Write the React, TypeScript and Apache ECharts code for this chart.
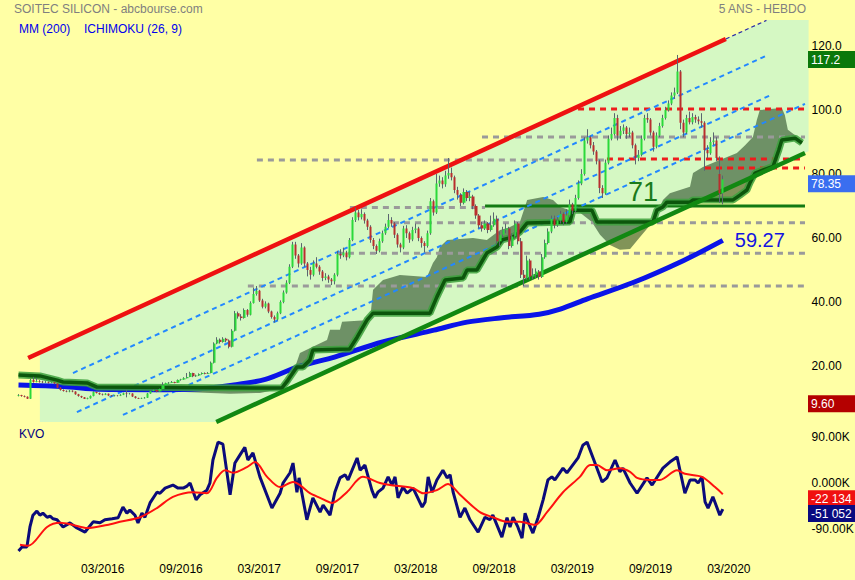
import React, { useEffect, useRef } from 'react';
import * as echarts from 'echarts';

// ---------- axis scaffolding ----------
const axisWeeks = 263; // weekly slots: 235 candles + 28 slots for the forward-shifted cloud
const tickLabels = ['03/2016', '09/2016', '03/2017', '09/2017', '03/2018', '09/2018', '03/2019', '09/2019', '03/2020'];
const firstTickWeek = 28;
const tickStep = 26;
const priceTicks = [20, 40, 60, 80, 100, 120];
const kvoTicks = [-90, 0, 90];

// ---------- weekly candles ----------
const opens = [
  10.7, 10.9, 10.6, 10.4, 9.8, 15.6, 15.0, 15.3, 15.1, 14.9,
  15.0, 14.8, 14.9, 14.5, 13.2, 12.5, 12.2, 12.0, 12.3, 12.0,
  11.2, 10.6, 10.2, 9.7, 9.9, 10.6, 11.9, 11.6, 11.2, 11.0,
  11.3, 10.8, 10.6, 10.8, 10.7, 11.0, 11.5, 11.3, 11.4, 10.5,
  10.0, 9.8, 9.9, 10.1, 11.4, 12.2, 12.5, 12.0, 12.8, 14.0,
  14.6, 14.8, 15.0, 14.8, 15.6, 15.8, 16.2, 16.6, 17.8, 16.8,
  17.0, 17.5, 17.8, 17.6, 17.8, 21.0, 27.0, 28.2, 27.5, 28.5,
  28.0, 26.0, 31.0, 36.5, 35.5, 35.0, 37.5, 36.0, 39.7, 42.5,
  43.5, 40.5, 38.5, 39.5, 37.0, 35.3, 34.5, 36.5, 40.0, 43.0,
  46.0, 51.0, 58.0, 54.5, 52.0, 57.0, 52.0, 50.0, 48.5, 52.0,
  51.0, 49.5, 47.5, 48.0, 47.0, 46.5, 48.5, 55.0, 54.5, 55.5,
  54.0, 59.4, 65.6, 68.0, 66.5, 67.5, 65.5, 63.5, 59.4, 57.5,
  56.0, 59.0, 61.5, 63.5, 65.6, 64.5, 61.0, 58.0, 57.0, 63.0,
  61.5, 59.5, 62.5, 63.0, 60.0, 58.4, 57.5, 61.5, 71.5, 68.0,
  77.0, 78.0, 76.8, 79.5, 80.3, 79.0, 75.0, 73.5, 71.0, 74.4,
  72.5, 73.0, 70.0, 67.0, 64.0, 63.0, 64.5, 62.5, 64.0, 66.0,
  59.0, 61.0, 62.5, 63.0, 57.5, 60.5, 64.5, 59.0, 48.5, 47.5,
  53.0, 48.0, 48.5, 49.5, 47.8, 54.0, 58.4, 62.0, 66.0, 64.0,
  65.5, 67.5, 65.0, 67.0, 70.5, 68.5, 72.5, 77.0, 80.0, 90.5,
  91.5, 89.0, 87.0, 84.0, 75.6, 74.0, 83.5, 91.0, 92.5, 97.5,
  92.0, 93.5, 94.5, 92.5, 93.0, 89.0, 85.0, 86.0, 91.0, 97.5,
  97.0, 93.0, 88.5, 92.0, 95.0, 97.5, 100.0, 102.0, 104.5, 105.5,
  112.0, 96.0, 93.0, 97.5, 96.2, 97.8, 97.0, 96.5, 96.0, 87.5,
  86.5, 90.0, 90.5, 80.0, 74.0,
];
const closes = [
  10.9, 10.6, 10.4, 9.8, 15.6, 15.0, 15.3, 15.1, 14.9, 15.0,
  14.8, 14.9, 14.5, 13.2, 12.5, 12.2, 12.0, 12.3, 12.0, 11.2,
  10.6, 10.2, 9.7, 9.9, 10.6, 11.9, 11.6, 11.2, 11.0, 11.3,
  10.8, 10.6, 10.8, 10.7, 11.0, 11.5, 11.3, 11.4, 10.5, 10.0,
  9.8, 9.9, 10.1, 11.4, 12.2, 12.5, 12.0, 12.8, 14.0, 14.6,
  14.8, 15.0, 14.8, 15.6, 15.8, 16.2, 16.6, 17.8, 16.8, 17.0,
  17.5, 17.8, 17.6, 17.8, 21.0, 27.0, 28.2, 27.5, 28.5, 28.0,
  26.0, 31.0, 36.5, 35.5, 35.0, 37.5, 36.0, 39.7, 42.5, 43.5,
  40.5, 38.5, 39.5, 37.0, 35.3, 34.5, 36.5, 40.0, 43.0, 46.0,
  51.0, 58.0, 54.5, 52.0, 57.0, 52.0, 50.0, 48.5, 52.0, 51.0,
  49.5, 47.5, 48.0, 47.0, 46.5, 48.5, 55.0, 54.5, 55.5, 54.0,
  59.4, 65.6, 68.0, 66.5, 67.5, 65.5, 63.5, 59.4, 57.5, 56.0,
  59.0, 61.5, 63.5, 65.6, 64.5, 61.0, 58.0, 57.0, 63.0, 61.5,
  59.5, 62.5, 63.0, 60.0, 58.4, 57.5, 61.5, 71.5, 68.0, 77.0,
  78.0, 76.8, 79.5, 80.3, 79.0, 75.0, 73.5, 71.0, 74.4, 72.5,
  73.0, 70.0, 67.0, 64.0, 63.0, 64.5, 62.5, 64.0, 66.0, 59.0,
  61.0, 62.5, 63.0, 57.5, 60.5, 64.5, 59.0, 48.5, 47.5, 53.0,
  48.0, 48.5, 49.5, 47.8, 54.0, 58.4, 62.0, 66.0, 64.0, 65.5,
  67.5, 65.0, 67.0, 70.5, 68.5, 72.5, 77.0, 80.0, 90.5, 91.5,
  89.0, 87.0, 84.0, 75.6, 74.0, 83.5, 91.0, 92.5, 97.5, 92.0,
  93.5, 94.5, 92.5, 93.0, 89.0, 85.0, 86.0, 91.0, 97.5, 97.0,
  93.0, 88.5, 92.0, 95.0, 97.5, 100.0, 102.0, 104.5, 105.5, 112.0,
  96.0, 93.0, 97.5, 96.2, 97.8, 97.0, 96.5, 96.0, 87.5, 86.5,
  90.0, 90.5, 85.0, 74.0, 78.35,
];
const highs = [
  11.2, 11.0, 10.8, 10.5, 16.0, 16.6, 16.2, 15.6, 15.4, 15.3,
  15.2, 15.1, 15.0, 14.6, 13.4, 12.7, 12.4, 12.5, 12.4, 12.1,
  11.3, 10.7, 10.3, 10.1, 10.8, 12.1, 12.0, 11.7, 11.4, 11.5,
  11.4, 10.9, 11.0, 10.9, 11.2, 11.7, 12.6, 11.6, 11.5, 10.6,
  10.1, 10.1, 10.3, 11.6, 12.4, 12.8, 12.6, 13.0, 14.9, 14.8,
  15.0, 15.3, 15.1, 15.8, 16.0, 16.5, 17.8, 18.2, 17.9, 17.3,
  17.7, 18.0, 18.0, 18.1, 21.4, 27.4, 29.0, 28.6, 29.0, 28.8,
  28.3, 31.5, 37.2, 37.0, 36.2, 38.0, 37.8, 40.2, 44.5, 45.0,
  43.8, 41.0, 40.2, 39.8, 37.3, 35.8, 37.0, 40.5, 43.6, 46.8,
  51.8, 58.8, 58.8, 55.0, 58.4, 57.4, 52.5, 51.0, 53.0, 54.0,
  51.5, 50.0, 49.0, 48.5, 47.5, 49.0, 56.0, 56.5, 57.0, 56.0,
  60.0, 66.5, 69.5, 68.8, 69.0, 68.0, 66.0, 64.0, 60.0, 58.0,
  59.8, 62.3, 64.5, 67.5, 66.5, 65.0, 61.5, 58.5, 63.8, 64.0,
  62.0, 63.5, 64.5, 63.5, 60.5, 59.0, 62.3, 72.5, 72.0, 80.0,
  79.5, 79.0, 81.0, 85.0, 82.0, 79.5, 76.0, 74.0, 75.5, 75.0,
  74.5, 73.5, 70.5, 67.5, 65.0, 65.5, 65.0, 67.0, 68.0, 67.0,
  62.0, 63.5, 64.5, 63.5, 61.5, 65.5, 65.0, 60.0, 50.0, 54.5,
  53.5, 50.5, 50.5, 50.0, 55.0, 59.5, 63.0, 67.0, 67.0, 66.5,
  68.5, 68.0, 69.0, 72.0, 71.0, 73.5, 78.0, 81.5, 91.5, 94.0,
  92.0, 90.0, 87.5, 84.5, 76.5, 84.5, 92.0, 94.5, 99.0, 98.5,
  95.0, 95.5, 95.0, 94.5, 93.5, 89.5, 87.5, 92.0, 98.5, 99.0,
  97.5, 93.5, 93.0, 96.0, 98.5, 101.0, 103.0, 105.5, 107.0, 117.2,
  112.5, 97.0, 98.5, 99.5, 99.0, 98.5, 98.0, 99.0, 96.5, 89.0,
  91.5, 93.0, 91.5, 85.5, 79.5,
];
const lows = [
  10.5, 10.4, 10.2, 9.7, 9.7, 14.8, 14.9, 14.8, 14.6, 14.7,
  14.5, 14.6, 14.3, 13.0, 12.3, 12.0, 11.8, 11.8, 11.8, 11.0,
  10.4, 10.0, 9.7, 9.6, 9.8, 10.5, 11.4, 11.0, 10.8, 10.9,
  10.6, 10.4, 10.5, 10.5, 10.6, 10.9, 10.2, 11.1, 10.3, 9.8,
  9.7, 9.7, 9.8, 10.0, 11.3, 12.0, 11.8, 11.9, 12.7, 13.9,
  14.4, 14.7, 14.6, 14.7, 15.4, 15.7, 16.1, 16.5, 16.5, 16.6,
  16.9, 17.3, 17.4, 17.5, 17.7, 20.8, 26.8, 27.0, 27.3, 27.4,
  25.5, 25.8, 30.8, 34.8, 34.2, 34.8, 35.4, 35.8, 39.5, 42.0,
  40.0, 38.0, 38.0, 36.5, 34.8, 33.6, 34.2, 36.2, 39.6, 42.6,
  45.6, 50.6, 53.5, 50.8, 51.6, 51.0, 48.0, 47.0, 48.0, 50.5,
  48.5, 46.5, 46.8, 46.0, 45.3, 45.5, 48.0, 53.5, 54.0, 53.0,
  53.6, 59.0, 65.0, 65.5, 65.8, 64.5, 62.5, 58.5, 56.5, 55.0,
  55.5, 58.5, 61.0, 63.0, 63.5, 60.0, 57.0, 55.5, 56.5, 60.0,
  58.5, 59.0, 61.5, 59.0, 57.0, 55.5, 57.0, 61.0, 67.0, 67.5,
  76.0, 75.5, 76.0, 78.5, 78.0, 74.0, 72.0, 70.0, 70.5, 71.5,
  71.5, 69.0, 66.0, 63.0, 62.0, 62.5, 61.5, 62.0, 63.5, 58.0,
  57.5, 60.0, 61.5, 56.5, 57.0, 60.0, 58.0, 47.5, 45.0, 47.0,
  47.0, 47.0, 47.5, 47.0, 47.5, 53.5, 58.0, 61.5, 63.0, 63.5,
  64.5, 64.0, 64.5, 66.5, 67.5, 68.0, 72.0, 76.5, 79.5, 89.5,
  88.0, 86.0, 83.0, 74.0, 72.5, 73.5, 83.0, 90.5, 92.0, 90.5,
  91.0, 92.5, 91.0, 91.5, 88.0, 83.0, 84.0, 85.5, 90.5, 96.0,
  92.0, 87.0, 88.0, 91.5, 94.5, 97.0, 99.5, 101.5, 103.5, 105.0,
  94.0, 91.5, 92.5, 95.5, 95.5, 96.0, 95.5, 94.5, 81.0, 85.0,
  86.0, 89.0, 84.0, 71.0, 70.5,
];

// ---------- moving average 200 ----------
const maWeeks = [0, 15, 27, 45, 60, 71, 82, 93, 105, 121, 138, 149, 160, 173, 180, 189, 204, 221, 234];
const maValues = [14.1, 13.6, 12.7, 12.6, 12.9, 14.0, 15.8, 19.8, 22.8, 27.5, 31.2, 33.7, 35.0, 36.2, 37.8, 41.0, 46.0, 53.0, 59.27];

// ---------- Ichimoku cloud edges (shifted 26 weeks forward) ----------
const spanAWeeks = [0, 13.8, 27.1, 50.3, 55.3, 70.3, 80.2, 85.2, 88, 90.2, 93.5, 97.8, 102.5, 103.5, 106.8, 107.5, 116.8, 117.8, 121.1, 126.7, 135.7, 137.7, 139, 140, 142.4, 151, 155.6, 160, 163.3, 166.6, 169, 174.3, 177.6, 180, 183.2, 186.5, 190.5, 193.2, 196.5, 199.8, 203.2, 206.5, 209.8, 212.1, 214.1, 216.4, 223.1, 224.1, 227.4, 233, 238.7, 241.4, 244, 245.3, 246.3, 253.6, 254.6, 255.6, 257.9, 260.3];
const spanAValues = [16.9, 14.7, 13.1, 12.8, 11.9, 11.3, 11.6, 12.5, 13.5, 15.0, 24.1, 26.0, 28.1, 31.3, 31.3, 33.8, 34.4, 43.8, 46.9, 48.4, 47.8, 52.2, 54.0, 57.2, 59.4, 60.0, 59.4, 62.5, 63.4, 65.0, 71.9, 72.8, 71.9, 69.7, 68.7, 68.0, 65.0, 61.0, 57.8, 56.3, 56.6, 60.3, 64.0, 67.2, 71.9, 74.0, 76.0, 80.3, 82.2, 84.4, 86.6, 89.0, 91.6, 96.9, 100.0, 100.6, 98.4, 93.8, 92.2, 89.9];
const spanBWeeks = [0, 7.1, 12.8, 14.8, 22.8, 26.1, 87.5, 89.5, 92.5, 94.5, 96.8, 97.8, 110, 112.5, 115.8, 117.8, 136.7, 139, 141.7, 147.7, 149, 152.3, 155.6, 159, 160.6, 164.3, 166.6, 169, 183.2, 184.2, 190.5, 192.2, 210.8, 212.1, 214.1, 215.4, 223.1, 224.1, 237.4, 239.7, 242, 243, 244.7, 250.7, 252.6, 253.6, 258, 260.3];
const spanBValues = [17.2, 16.9, 15.6, 15.0, 14.7, 13.4, 13.1, 15.6, 19.7, 19.7, 21.9, 25.0, 25.3, 29.0, 34.4, 36.5, 36.5, 41.6, 46.9, 47.5, 50.0, 50.0, 55.3, 57.2, 59.4, 60.3, 61.9, 64.7, 65.0, 68.7, 68.7, 65.0, 65.0, 68.7, 69.7, 71.2, 71.2, 71.9, 71.9, 73.4, 75.0, 77.2, 80.3, 82.4, 87.5, 90.6, 91.2, 89.7];

// ---------- KVO oscillator (thousands) ----------
const kvoWeeks = [0, 1.2, 2.8, 3.8, 4.8, 6.1, 7.1, 8.1, 9.5, 10.5, 11.5, 12.8, 14.8, 17.1, 19.4, 22.1, 24.8, 27.1, 28.7, 31.1, 33.1, 34.7, 36, 37, 38.7, 39.7, 41, 42, 43.7, 46, 47, 48.7, 51.3, 53, 54.7, 56, 57, 59, 60.3, 62.6, 63.6, 64.6, 66.3, 67.9, 70.3, 71.9, 73.6, 75.2, 76.2, 77.9, 80.2, 84.2, 86.9, 87.9, 90.2, 91.2, 92.5, 93.2, 95.8, 97.8, 100.2, 101.2, 103.5, 105.1, 106.8, 108.5, 109.5, 112.5, 113.5, 115.1, 117.4, 118.4, 119.4, 121.1, 122.8, 124.1, 125.1, 126.1, 127.7, 129.1, 131.1, 134.1, 135.1, 136.1, 137.4, 139, 141, 142.4, 143.4, 144.4, 146.7, 148.3, 150, 152.7, 155, 156.6, 157.6, 160.6, 162.3, 163.3, 164.3, 165.9, 167.3, 168.3, 169.3, 170.9, 172.6, 174.3, 175.9, 177.2, 178.2, 180.9, 182.2, 185.9, 187.5, 188.9, 190.9, 193.9, 195.5, 198.2, 199.8, 200.8, 203.2, 205.5, 208.8, 210.5, 214.1, 216.4, 218.8, 221.4, 223.1, 224.8, 225.8, 227.1, 228.1, 229.1, 230.7, 233, 234];
const kvoValues = [-133, -125, -125, -86, -63, -55, -63, -59, -67, -65, -70, -72, -86, -78, -88, -96, -76, -78, -72, -70, -68, -47, -59, -53, -63, -78, -59, -67, -39, -18, -20, -10, -4, -10, -10, -6, 0, -33, -23, -14, 0, 45, 80, 76, -23, 39, 55, 70, 45, 59, 12, -49, -20, 0, 20, 39, -18, 10, -72, -29, -57, -43, -63, -18, 10, 16, 6, 49, 25, 35, -14, -29, -18, -10, 12, -4, 12, -29, -8, -20, -10, -47, -37, 12, -18, 6, 25, 10, 16, -18, -67, -49, -72, -96, -67, -72, -63, -106, -68, -86, -67, -86, -108, -59, -76, -98, -68, -33, 6, 12, 6, 29, 20, 49, 74, 80, 49, 2, 10, 45, 22, 29, 0, -20, 10, -4, 29, 41, 51, -20, 6, 6, 0, 12, -37, -49, -27, -63, -51.052];
const sigWeeks = [0.5, 3.2, 9.5, 13.8, 18.1, 22.8, 29.4, 33.7, 40.4, 46, 51.3, 58, 62.6, 65.9, 68.6, 71.3, 75.9, 78.6, 82.6, 86.9, 91.2, 93.5, 96.8, 100.2, 104.2, 109.1, 114.4, 120.1, 123.4, 131.1, 134.4, 139, 142.7, 146.7, 153.3, 157.6, 162.3, 166.6, 171.6, 175.6, 180.9, 186.5, 189.9, 192.2, 195.5, 199.8, 203.2, 205.5, 209.8, 213.1, 218.8, 221.4, 227.1, 231.4, 234];
const sigValues = [-121, -123, -86, -78, -82, -88, -82, -76, -67, -49, -27, -18, -20, 10, 25, 20, 31, 41, 12, -8, 2, -4, -20, -29, -39, -18, 12, 0, -4, -10, -20, -14, -2, -23, -57, -67, -76, -76, -82, -57, -18, 12, 35, 35, 25, 29, 22, 10, 6, 6, 25, 18, 12, -8, -22.134];

// ---------- drawn trend lines and levels (week, price) ----------
const upperChannel = [[3.2, 22.5], [235, 122.2]];
const upperExtension = [[235, 122.2], [248.5, 128.0]];
const lowerChannel = [[65.7, 2.5], [261.3, 86.56]];
const innerLines = [
  [[18.1, 17.8], [249, 117.2]],
  [[19.4, 5.6], [250, 104.7]],
  [[34.7, 4.7], [261.3, 101.9]],
];
const grayLevels = [84.4, 69.5, 64.8, 55.2, 45.0, 91.6];
const grayFrom = [79.2, 110.1, 124.4, 105.8, 76.2, 154];
const grayTo = [194.8, 155, 261.3, 261.3, 261.3, 261.3];
const redLevels = [100.3, 84.7, 81.9];
const redFrom = [185.9, 195.5, 228.1];
const redTo = [261.3, 260.3, 261.3];
const supportLevel = 70.0;
const supportFrom = 155;
const supportTo = 261.3;
const supportText = '71';
const supportTextPos = [202.5, 74.4];

const priceMin = 2.5;
const priceMax = 128.125;
const fillLeftWeek = 7.1;

const FONT = 'Arial, "Liberation Sans", sans-serif';

function zip(ws: number[], vs: number[]) {
  return ws.map((w, i) => [w, vs[i]]);
}

function lineAt(line: number[][], w: number) {
  const [[w0, p0], [w1, p1]] = line;
  return p0 + ((w - w0) * (p1 - p0)) / (w1 - w0);
}

function weekAt(line: number[][], p: number) {
  const [[w0, p0], [w1, p1]] = line;
  return w0 + ((p - p0) * (w1 - w0)) / (p1 - p0);
}

function seg(data: number[][], color: string, width: number, type: any, z: number) {
  return {
    type: 'line',
    xAxisIndex: 1,
    yAxisIndex: 0,
    data,
    showSymbol: false,
    silent: true,
    animation: false,
    lineStyle: { color, width, type },
    z,
  };
}

function polygonSeries(points: number[][], fill: string, z: number) {
  return {
    type: 'custom',
    coordinateSystem: 'cartesian2d',
    xAxisIndex: 1,
    yAxisIndex: 0,
    silent: true,
    data: [[100, 50]],
    z,
    renderItem: (_p: any, api: any) => ({
      type: 'polygon',
      shape: { points: points.map((pt) => api.coord(pt)) },
      style: { fill },
    }),
  };
}

export default function App() {
  const ref = useRef<HTMLDivElement>(null);

  useEffect(() => {
    document.body.style.margin = '0';
    const el = ref.current!;
    const chart = echarts.init(el, null, { renderer: 'svg' });

    const categories = Array.from({ length: axisWeeks }, (_, i) => String(i));
    const candleData = closes.map((c, i) => [opens[i], c, lows[i], highs[i]]);

    const xMaxW = axisWeeks - 0.5;
    const channelFill = [
      [fillLeftWeek, lineAt(upperChannel, fillLeftWeek)],
      [weekAt(upperChannel, priceMax), priceMax],
      [xMaxW, priceMax],
      [xMaxW, lineAt(lowerChannel, xMaxW)],
      [weekAt(lowerChannel, priceMin), priceMin],
      [fillLeftWeek, priceMin],
    ];
    const spanA = zip(spanAWeeks, spanAValues);
    const spanB = zip(spanBWeeks, spanBValues);
    const cloud = [...spanA, ...spanB.slice().reverse()];

    const series: any[] = [
      polygonSeries(channelFill, '#d5f8c3', 1),
      polygonSeries(cloud, 'rgba(25,60,25,0.55)', 2),
    ];
    grayLevels.forEach((lv, i) => {
      series.push(seg([[grayFrom[i], lv], [grayTo[i], lv]], '#9a9a9a', 3, [6, 5], 3));
    });
    redLevels.forEach((lv, i) => {
      series.push(seg([[redFrom[i], lv], [redTo[i], lv]], '#ee1c1c', 3, [6, 5], 3));
    });
    series.push(seg([[supportFrom, supportLevel], [supportTo, supportLevel]], '#137a13', 3, 'solid', 3));
    innerLines.forEach((ln) => series.push(seg(ln, '#2288ff', 2, [5, 4], 3)));
    series.push(seg(upperExtension, '#2a2aa8', 1.2, [4, 3], 3));
    series.push(seg(upperChannel, '#ee1111', 4.5, 'solid', 5));
    series.push(seg(lowerChannel, '#118811', 4.5, 'solid', 5));
    // MA 200
    series.push({ ...seg(zip(maWeeks, maValues), '#0a14e8', 5, 'solid', 4), smooth: 0.3 });
    // Ichimoku span line (glow + core)
    series.push(seg(spanB, 'rgba(60,160,60,0.85)', 7, 'solid', 4));
    series.push(seg(spanB, '#0c560c', 3.5, 'solid', 4));
    // candles: wicks then bodies
    series.push({
      type: 'candlestick',
      xAxisIndex: 0,
      yAxisIndex: 0,
      data: candleData,
      barWidth: 1,
      silent: true,
      z: 6,
      itemStyle: { color: '#5a6670', color0: '#5a6670', borderColor: '#5a6670', borderColor0: '#5a6670', borderWidth: 1 },
    });
    series.push({
      type: 'candlestick',
      xAxisIndex: 0,
      yAxisIndex: 0,
      data: candleData,
      barWidth: 2.6,
      silent: true,
      z: 7,
      itemStyle: { color: '#2bd93a', color0: '#b82e2e', borderColor: '#2bd93a', borderColor0: '#b82e2e', borderWidth: 0 },
    });
    // KVO
    series.push({
      type: 'line', xAxisIndex: 3, yAxisIndex: 1, data: zip(kvoWeeks, kvoValues),
      showSymbol: false, silent: true, lineStyle: { color: '#0b0b7a', width: 3 }, z: 4,
    });
    series.push({
      type: 'line', xAxisIndex: 3, yAxisIndex: 1, data: zip(sigWeeks, sigValues), smooth: 0.3,
      showSymbol: false, silent: true, lineStyle: { color: '#ff1010', width: 2 }, z: 5,
    });

    const gridCommon = { left: 17, right: 46.4, outerBoundsMode: 'none', containLabel: false };
    const hiddenAxis = { axisLine: { show: false }, axisTick: { show: false }, splitLine: { show: false } };

    chart.setOption({
      animation: false,
      backgroundColor: '#ffffa5',
      textStyle: { fontFamily: FONT },
      grid: [
        { ...gridCommon, top: 20, bottom: 158 },
        { ...gridCommon, top: 425, bottom: 25 },
      ],
      xAxis: [
        { type: 'category', gridIndex: 0, data: categories, boundaryGap: true, show: false },
        { type: 'value', gridIndex: 0, min: -0.5, max: xMaxW, show: false },
        {
          type: 'category', gridIndex: 1, data: categories, boundaryGap: true, ...hiddenAxis,
          axisLabel: {
            interval: (i: number) => i >= firstTickWeek && (i - firstTickWeek) % tickStep === 0,
            formatter: (_v: string, i: number) => tickLabels[(i - firstTickWeek) / tickStep] ?? '',
            color: '#000', fontSize: 12, fontFamily: FONT, margin: 8,
          },
        },
        { type: 'value', gridIndex: 1, min: -0.5, max: xMaxW, show: false },
      ],
      yAxis: [
        {
          type: 'value', gridIndex: 0, position: 'right', min: priceMin, max: priceMax, splitNumber: 6, ...hiddenAxis,
          axisLabel: {
            customValues: priceTicks,
            formatter: (v: number) => (v >= 100 ? v.toFixed(1) : v.toFixed(2)),
            color: '#000', fontSize: 12, fontFamily: FONT, margin: 3,
          },
        },
        {
          type: 'value', gridIndex: 1, position: 'right', min: -140.9, max: 113.5, ...hiddenAxis,
          axisLabel: {
            customValues: kvoTicks,
            formatter: (v: number) => (v === 0 ? '0.000K' : v.toFixed(2) + 'K'),
            color: '#000', fontSize: 12, fontFamily: FONT, margin: 3,
          },
        },
      ],
      series,
    });

    const py = (axis: number, v: number) => chart.convertToPixel({ yAxisIndex: axis } as any, v) as number;
    const px = (axis: number, w: number) => chart.convertToPixel({ xAxisIndex: axis } as any, w) as number;

    const tag = (axis: number, value: number, text: string, fill: string) => {
      const y = py(axis, value) - 4;
      return [
        { type: 'rect', z: 100, shape: { x: 808, y, width: 47, height: 17 }, style: { fill } },
        {
          type: 'text', z: 101, x: 811, y: y + 9,
          style: { text, fill: '#fff', fontSize: 12, fontFamily: FONT, verticalAlign: 'middle', align: 'left' },
        },
      ];
    };
    const maxHigh = Math.max(...highs);
    const minLow = Math.min(...lows);
    const lastClose = closes[closes.length - 1];
    const lastKvo = kvoValues[kvoValues.length - 1];
    const lastSig = sigValues[sigValues.length - 1];
    const fmtK = (v: number) => {
      const n = Math.round(v * 1000);
      const s = Math.abs(n).toString().replace(/\B(?=(\d{3})+(?!\d))/g, ' ');
      return (n < 0 ? '-' : '') + s;
    };
    const maLastW = maWeeks[maWeeks.length - 1];
    const maLast = maValues[maValues.length - 1];

    const text = (t: string, x: number, y: number, fill: string, size: number, align = 'left') => ({
      type: 'text', z: 100, x, y,
      style: { text: t, fill, fontSize: size, fontFamily: FONT, verticalAlign: 'middle', align },
    });

    chart.setOption({
      graphic: [
        text('SOITEC SILICON - abcbourse.com', 14, 9, '#7f7f7f', 12),
        text('5 ANS - HEBDO', 806, 9, '#7f7f7f', 12, 'right'),
        text('MM (200)', 19, 29, '#0000ee', 12),
        text('ICHIMOKU (26, 9)', 84, 29, '#0000ee', 12),
        text('KVO', 19, 434, '#000080', 12),
        text(supportText, px(1, supportTextPos[0]), py(0, supportTextPos[1]), '#1a7a1a', 27),
        text(maLast.toFixed(2), px(1, maLastW) + 12, py(0, maLast), '#1414e0', 20),
        ...tag(0, maxHigh, maxHigh.toFixed(1), '#0a780a'),
        ...tag(0, lastClose, lastClose.toFixed(2), '#3a6ef0'),
        ...tag(0, minLow, minLow.toFixed(2), '#b40000'),
        ...tag(1, lastSig, fmtK(lastSig), '#f01010'),
        ...tag(1, lastKvo, fmtK(lastKvo), '#0a0a80'),
      ],
    });

    return () => chart.dispose();
  }, []);

  return <div ref={ref} style={{ width: 855, height: 580 }} />;
}
